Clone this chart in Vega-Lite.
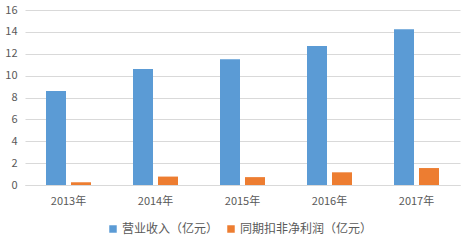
{
  "$schema": "https://vega.github.io/schema/vega-lite/v6.json",
  "width": 435,
  "height": 175,
  "autosize": {"type": "none"},
  "padding": {"left": 25, "top": 10, "right": 4, "bottom": 59},
  "background": "white",
  "config": {
    "view": {"stroke": null},
    "font": "Noto Sans CJK SC"
  },
  "data": {
    "values": [
      {"year": "2013年", "series": "营业收入（亿元）", "value": 8.6},
      {"year": "2014年", "series": "营业收入（亿元）", "value": 10.6},
      {"year": "2015年", "series": "营业收入（亿元）", "value": 11.5},
      {"year": "2016年", "series": "营业收入（亿元）", "value": 12.7},
      {"year": "2017年", "series": "营业收入（亿元）", "value": 14.25},
      {"year": "2013年", "series": "同期扣非净利润（亿元）", "value": 0.25},
      {"year": "2014年", "series": "同期扣非净利润（亿元）", "value": 0.77},
      {"year": "2015年", "series": "同期扣非净利润（亿元）", "value": 0.72},
      {"year": "2016年", "series": "同期扣非净利润（亿元）", "value": 1.16},
      {"year": "2017年", "series": "同期扣非净利润（亿元）", "value": 1.55}
    ]
  },
  "mark": {"type": "bar"},
  "encoding": {
    "x": {
      "field": "year", "type": "nominal", "title": null,
      "scale": {"paddingInner": 0, "paddingOuter": 0},
      "axis": {"labelAngle": 0, "labelFontSize": 11, "labelColor": "#595959", "ticks": false, "domainColor": "#D9D9D9", "labelPadding": 10}
    },
    "xOffset": {
      "field": "series", "type": "nominal",
      "sort": ["营业收入（亿元）", "同期扣非净利润（亿元）"],
      "scale": {"paddingInner": 0.2, "paddingOuter": 0.84}
    },
    "y": {
      "field": "value", "type": "quantitative", "title": null,
      "scale": {"domain": [0, 16], "nice": false},
      "axis": {"values": [0, 2, 4, 6, 8, 10, 12, 14, 16], "grid": true, "gridColor": "#D9D9D9", "domain": false, "ticks": false, "labelFontSize": 11, "labelColor": "#595959", "labelPadding": 8}
    },
    "color": {
      "field": "series", "type": "nominal",
      "sort": ["营业收入（亿元）", "同期扣非净利润（亿元）"],
      "scale": {"range": ["#5B9BD5", "#ED7D31"]},
      "legend": {"title": null, "orient": "none", "direction": "horizontal", "legendX": 82, "legendY": 213, "symbolType": "square", "symbolSize": 56, "symbolStrokeWidth": 0, "labelFontSize": 12, "labelColor": "#595959", "labelOffset": 3, "columnPadding": 6}
    }
  }
}
